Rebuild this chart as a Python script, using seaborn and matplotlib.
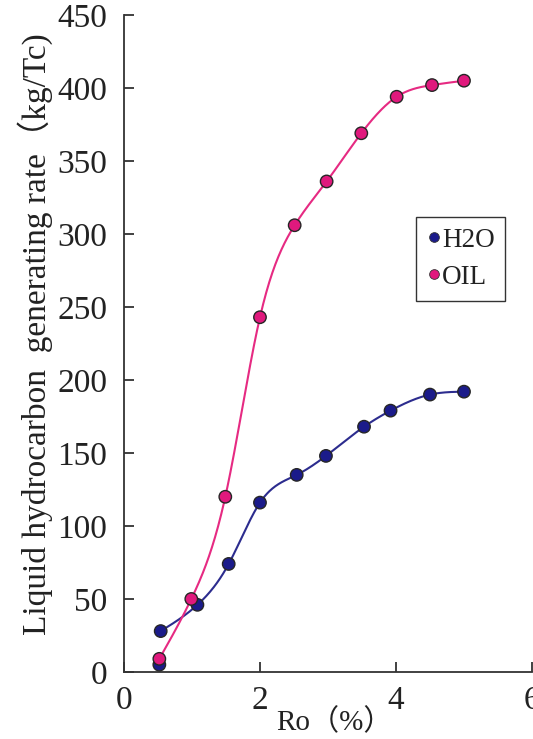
import numpy as np
import pandas as pd
import matplotlib
matplotlib.use("Agg")
import matplotlib.pyplot as plt
from matplotlib.lines import Line2D
import seaborn as sns

# Measured liquid hydrocarbon generating rate versus vitrinite reflectance
ro_h2o = [0.52, 0.54, 1.08, 1.54, 2.00, 2.54, 2.97, 3.53, 3.92, 4.50, 5.00]
rate_h2o = [5, 28, 46, 74, 116, 135, 148, 168, 179, 190, 192]

ro_oil = [0.52, 0.99, 1.49, 2.00, 2.51, 2.98, 3.49, 4.01, 4.53, 5.00]
rate_oil = [9, 50, 120, 243, 306, 336, 369, 394, 402, 405]

series = ["H2O", "OIL"]
x_ticks = [0, 2, 4, 6]
y_ticks = [0, 50, 100, 150, 200, 250, 300, 350, 400, 450]

marker_colors = {"H2O": "#1b1b8a", "OIL": "#e0197d"}
line_colors = {"H2O": "#2c2c8e", "OIL": "#e62a82"}


def natural_spline(x, y, xs):
    """Natural cubic spline through (x, y), evaluated at xs."""
    x = np.asarray(x, float)
    y = np.asarray(y, float)
    n = len(x)
    h = np.diff(x)
    A = np.zeros((n, n))
    r = np.zeros(n)
    A[0, 0] = A[-1, -1] = 1.0
    for i in range(1, n - 1):
        A[i, i - 1] = h[i - 1]
        A[i, i] = 2 * (h[i - 1] + h[i])
        A[i, i + 1] = h[i]
        r[i] = 3 * ((y[i + 1] - y[i]) / h[i] - (y[i] - y[i - 1]) / h[i - 1])
    c = np.linalg.solve(A, r)
    b = np.diff(y) / h - h * (2 * c[:-1] + c[1:]) / 3
    d = np.diff(c) / (3 * h)
    idx = np.clip(np.searchsorted(x, xs) - 1, 0, n - 2)
    dx = xs - x[idx]
    return y[idx] + b[idx] * dx + c[idx] * dx**2 + d[idx] * dx**3


points = pd.concat([
    pd.DataFrame({"Ro": ro_h2o, "rate": rate_h2o, "series": "H2O"}),
    pd.DataFrame({"Ro": ro_oil, "rate": rate_oil, "series": "OIL"}),
], ignore_index=True)

# Trend curves (the H2O trend begins at its second reading)
curve_src = {"H2O": (ro_h2o[1:], rate_h2o[1:]), "OIL": (ro_oil, rate_oil)}
curves = []
for name, (cx, cy) in curve_src.items():
    xs = np.linspace(cx[0], cx[-1], 400)
    curves.append(pd.DataFrame({"Ro": xs, "rate": natural_spline(cx, cy, xs),
                                "series": name}))
curves = pd.concat(curves, ignore_index=True)

sns.set_theme(style="ticks")
plt.rcParams["font.family"] = ["Liberation Serif", "Noto Sans CJK SC"]

fig = plt.figure(figsize=(5.33, 7.39), dpi=100)
ax = fig.add_axes([0.2326, 0.0907, 0.7655, 0.889])

sns.lineplot(data=curves, x="Ro", y="rate", hue="series", palette=line_colors,
             hue_order=series, sort=False, estimator=None, linewidth=1.5,
             legend=False, ax=ax)
sns.scatterplot(data=points, x="Ro", y="rate", hue="series", palette=marker_colors,
                hue_order=series, s=80, edgecolor="#262626", linewidth=1.0,
                legend=False, zorder=3, ax=ax)

ax.set_xlim(0, 6)
ax.set_ylim(0, 450)
ax.set_xticks(x_ticks)
ax.set_yticks(y_ticks)
ax.set_xticklabels([str(v) for v in x_ticks])
ax.set_yticklabels([str(v) for v in y_ticks])

for side in ("top", "right"):
    ax.spines[side].set_visible(False)
for side in ("left", "bottom"):
    ax.spines[side].set_linewidth(1.3)
    ax.spines[side].set_color("#333333")

ax.tick_params(axis="both", direction="in", length=7, width=1.3,
               color="#333333", labelsize=24, labelcolor="#222222")
ax.tick_params(axis="y", pad=12)
ax.tick_params(axis="x", pad=10)

ax.set_xlabel("Ro（%）", fontsize=21, color="#222222")
ax.xaxis.set_label_coords(0.515, -0.056)
ax.set_ylabel("Liquid hydrocarbon  generating rate（kg/Tc)", fontsize=24,
              color="#222222")
ax.yaxis.set_label_coords(-0.175, 0.515)

handles = [Line2D([], [], marker="o", linestyle="none", markersize=7,
                  markerfacecolor=marker_colors[s], markeredgecolor="#333333",
                  markeredgewidth=0.6) for s in series]
leg = ax.legend(handles, series, loc="upper left", bbox_to_anchor=(0.716, 0.693),
                fontsize=19.5, frameon=True, fancybox=False, framealpha=1,
                edgecolor="#333333", handlelength=0.5, handletextpad=0.05,
                labelspacing=0.45, borderpad=0.4, borderaxespad=0)
leg.get_frame().set_linewidth(1.0)
for t in leg.get_texts():
    t.set_color("#222222")

fig.savefig("out.png", dpi=100, facecolor="white")
